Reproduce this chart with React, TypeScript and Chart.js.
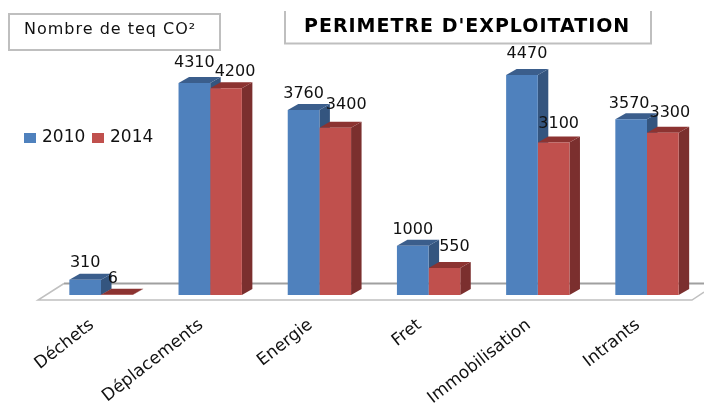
import React, { useEffect, useRef } from "react";
import { Chart, registerables } from "chart.js";

Chart.register(...registerables);

const categories = ["Déchets", "Déplacements", "Energie", "Fret", "Immobilisation", "Intrants"];
const values2010 = [310, 4310, 3760, 1000, 4470, 3570];
const values2014 = [6, 4200, 3400, 550, 3100, 3300];

const seriesNames = ["2010", "2014"];
const chartTitle = "PERIMETRE D'EXPLOITATION";
const unitCaption = "Nombre de teq CO²";

// Hand-placed label shifts, because neighbouring value labels would collide.
const labelShift2010 = [[0, -17], [0, -20], [0, -16], [0, -16], [5, -21], [-2, -16]];
const labelShift2014 = [[-4, -16], [9, -17], [11, -23], [10, -21], [5, -19], [7, -20]];

const FONT = '"DejaVu Sans", sans-serif';
const DEPTH_X = 10.5;
const DEPTH_Y = 6;

const palette = [
  { face: "#4F81BD", side: "#34557F", top: "#3B5E8C" },
  { face: "#C0504D", side: "#7B2F2E", top: "#8C3331" },
];

function quad(ctx: CanvasRenderingContext2D, pts: number[][], fill: string) {
  ctx.beginPath();
  pts.forEach(([x, y], i) => (i ? ctx.lineTo(x, y) : ctx.moveTo(x, y)));
  ctx.closePath();
  ctx.fillStyle = fill;
  ctx.fill();
}

// Floor of the pseudo 3D plot plus the side and top faces of every bar.
const extrusionPlugin = {
  id: "extrusion",
  beforeDatasetsDraw(chart: any) {
    const { ctx, chartArea } = chart;
    const base = chartArea.bottom;
    ctx.save();
    ctx.lineWidth = 2;
    ctx.strokeStyle = "#A0A0A0";
    ctx.beginPath();
    ctx.moveTo(704, base - 11.5);
    ctx.lineTo(64, base - 11.5);
    ctx.stroke();
    ctx.strokeStyle = "#C0C0C0";
    ctx.lineWidth = 1.5;
    ctx.beginPath();
    ctx.moveTo(64, base - 11.5);
    ctx.lineTo(38, base + 5);
    ctx.lineTo(692, base + 5);
    ctx.lineTo(704, base - 3);
    ctx.stroke();

    chart.data.datasets.forEach((_: any, d: number) => {
      chart.getDatasetMeta(d).data.forEach((bar: any) => {
        const left = bar.x - bar.width / 2;
        const right = bar.x + bar.width / 2;
        quad(ctx, [[right, bar.y], [right + DEPTH_X, bar.y - DEPTH_Y], [right + DEPTH_X, bar.base - DEPTH_Y], [right, bar.base]], palette[d].side);
        quad(ctx, [[left, bar.y], [left + DEPTH_X, bar.y - DEPTH_Y], [right + DEPTH_X, bar.y - DEPTH_Y], [right, bar.y]], palette[d].top);
      });
    });
    ctx.restore();
  },
  afterDatasetsDraw(chart: any) {
    const { ctx } = chart;
    ctx.save();
    ctx.font = `16px ${FONT}`;
    ctx.fillStyle = "#111111";
    ctx.textAlign = "center";
    ctx.textBaseline = "middle";
    [labelShift2010, labelShift2014].forEach((shifts, d) => {
      chart.getDatasetMeta(d).data.forEach((bar: any, i: number) => {
        const value = chart.data.datasets[d].data[i];
        ctx.fillText(String(value), bar.x + shifts[i][0], bar.y + shifts[i][1]);
      });
    });
    ctx.restore();
  },
};

// Caption boxes and the series key sitting left of the bars.
const annotationPlugin = {
  id: "annotations",
  afterDraw(chart: any) {
    const { ctx } = chart;
    ctx.save();
    ctx.strokeStyle = "#BFBFBF";
    ctx.lineWidth = 2;
    ctx.strokeRect(9, 14, 211, 36);
    ctx.beginPath();
    ctx.moveTo(285, 11);
    ctx.lineTo(285, 43.5);
    ctx.lineTo(651, 43.5);
    ctx.lineTo(651, 11);
    ctx.stroke();

    ctx.textBaseline = "middle";
    ctx.textAlign = "left";
    ctx.fillStyle = "#111111";
    ctx.font = `16px ${FONT}`;
    (ctx as any).letterSpacing = "1px";
    ctx.fillText(unitCaption, 24, 30);
    ctx.font = `bold 19px ${FONT}`;
    (ctx as any).letterSpacing = "1px";
    ctx.fillStyle = "#000000";
    ctx.fillText(chartTitle, 304, 27);

    ctx.font = `17px ${FONT}`;
    (ctx as any).letterSpacing = "0px";
    [24, 92].forEach((x, i) => {
      ctx.fillStyle = palette[i].face;
      ctx.fillRect(x, 133, 12, 10);
      ctx.fillStyle = "#111111";
      ctx.fillText(seriesNames[i], x + 18, 138);
    });
    ctx.restore();
  },
};

export default function App() {
  const ref = useRef<HTMLCanvasElement>(null);

  useEffect(() => {
    const chart = new Chart(ref.current!, {
      type: "bar",
      data: {
        labels: categories,
        datasets: [
          { label: seriesNames[0], data: values2010, backgroundColor: palette[0].face },
          { label: seriesNames[1], data: values2014, backgroundColor: palette[1].face },
        ],
      },
      options: {
        responsive: false,
        animation: false,
        layout: { padding: { left: 46.4, right: 2.4, top: 49, bottom: 0 } },
        datasets: { bar: { categoryPercentage: 0.58, barPercentage: 1 } },
        plugins: { legend: { display: false }, title: { display: false }, tooltip: { enabled: false } },
        scales: {
          y: { display: false, min: 0, max: 5000 },
          x: {
            grid: { display: false, drawTicks: false },
            border: { display: false },
            afterFit: (scale: any) => {
              scale.height = 108;
            },
            ticks: {
              autoSkip: false,
              minRotation: 38,
              maxRotation: 38,
              padding: 20,
              labelOffset: -9,
              color: "#111111",
              font: { family: FONT, size: 17 },
            },
          },
        },
      },
      plugins: [extrusionPlugin, annotationPlugin],
    } as any);
    return () => chart.destroy();
  }, []);

  return (
    <div style={{ position: "fixed", left: 0, top: 0, width: 704, height: 403, background: "#fff", overflow: "hidden" }}>
      <canvas ref={ref} width={704} height={403} style={{ display: "block" }} />
    </div>
  );
}
